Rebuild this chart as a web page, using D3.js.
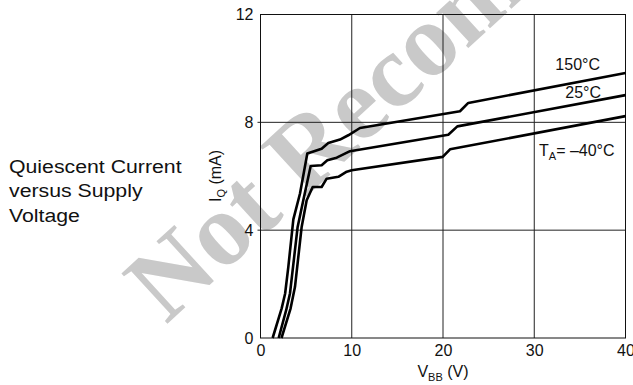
<!DOCTYPE html>
<html>
<head>
<meta charset="utf-8">
<script src="https://cdn.jsdelivr.net/npm/d3@7"></script>
<style>
  html, body { margin: 0; padding: 0; background: #fff; }
  svg { display: block; }
  text { font-family: "Liberation Sans", Arial, Helvetica, sans-serif; fill: #111; }
  text.wm { font-family: "Liberation Serif", "Times New Roman", serif; font-weight: bold; fill: #c9c9c9; }
</style>
</head>
<body>
<svg id="chart" width="633" height="385"></svg>
<script>
// ---- data ----
const xTicks = [0, 10, 20, 30, 40];
const yTicks = [0, 4, 8, 12];

const vbb150 = [1.33, 2.32, 2.7, 3.05, 3.6, 4.33, 5.13, 6.7, 7.43, 8.71, 9.62, 10.9, 21.86, 22.77, 40];
const iq150  = [0,    1.1,  1.65, 2.64, 4.4, 5.36, 6.84, 7.02, 7.23, 7.36, 7.52, 7.79, 8.41, 8.72, 9.83];

const vbb25 = [1.99, 2.82, 3.23, 4.07, 4.69, 5.5, 6.7, 7.32, 8.35, 9.81, 20.58, 21.57, 40];
const iq25  = [0,    1.04, 1.65, 4.12, 5.11, 6.38, 6.41, 6.59, 6.69, 6.93, 7.54, 7.85, 9.01];

const vbbM40 = [2.3, 3.3, 3.78, 4.51, 5.06, 5.72, 6.7, 7.25, 8.53, 9.45, 10, 19.97, 20.77, 40];
const iqM40  = [0,   1.1, 1.9,  4.12, 5.11, 5.6,  5.6, 5.91, 5.98, 6.17, 6.22, 6.72, 7.0, 8.23];

const seriesNames = ["150°C", "25°C", "–40°C"];
const watermark = "Not Recommended";
const titleLines = ["Quiescent Current", "versus Supply", "Voltage"];

// ---- drawing ----
const svg = d3.select("#chart");
svg.append("rect").attr("width", 633).attr("height", 385).attr("fill", "#fff");

const x = d3.scaleLinear().domain([0, 40]).range([260.5, 625.5]);
const y = d3.scaleLinear().domain([0, 12]).range([338, 14.5]);

// watermark (behind everything)
svg.append("text")
  .attr("class", "wm")
  .attr("transform", "translate(166,325) rotate(-42.5)")
  .attr("font-size", 104)
  .text(watermark);

// gridlines
const g = svg.append("g");
g.selectAll("line.vg").data(xTicks.slice(1, -1)).join("line")
  .attr("x1", d => x(d)).attr("x2", d => x(d))
  .attr("y1", y(0)).attr("y2", y(12))
  .attr("stroke", "#222").attr("stroke-width", 1);
g.selectAll("line.hg").data(yTicks.slice(1, -1)).join("line")
  .attr("x1", x(0) - 3).attr("x2", x(40))
  .attr("y1", d => y(d)).attr("y2", d => y(d))
  .attr("stroke", "#222").attr("stroke-width", 1);

// frame
g.append("rect")
  .attr("x", x(0)).attr("y", y(12))
  .attr("width", x(40) - x(0)).attr("height", y(0) - y(12))
  .attr("fill", "none").attr("stroke", "#111").attr("stroke-width", 1);

// axes (labels only)
const xAxis = svg.append("g").attr("transform", `translate(0,${y(0)})`)
  .call(d3.axisBottom(x).tickValues(xTicks).tickSize(0).tickPadding(7).tickFormat(d3.format("d")));
xAxis.select(".domain").remove();
xAxis.selectAll("text").attr("font-size", 16).style("font-family", "'Liberation Sans', Arial, sans-serif").style("fill", "#111");

const yAxis = svg.append("g").attr("transform", `translate(${x(0)},0)`)
  .call(d3.axisLeft(y).tickValues(yTicks).tickSize(0).tickPadding(7).tickFormat(d3.format("d")));
yAxis.select(".domain").remove();
yAxis.selectAll("text").attr("font-size", 16).style("font-family", "'Liberation Sans', Arial, sans-serif").style("fill", "#111");

// curves
const line = d3.line().x(d => x(d[0])).y(d => y(d[1])).curve(d3.curveLinear);
const series = [
  d3.zip(vbb150, iq150),
  d3.zip(vbb25, iq25),
  d3.zip(vbbM40, iqM40)
];
svg.append("g").selectAll("path").data(series).join("path")
  .attr("d", line)
  .attr("fill", "none")
  .attr("stroke", "#000")
  .attr("stroke-width", 2.6)
  .attr("stroke-linejoin", "round");

// curve labels
svg.append("text").attr("x", 600).attr("y", 70).attr("text-anchor", "end")
  .attr("font-size", 16).text(seriesNames[0]);
svg.append("text").attr("x", 601).attr("y", 98).attr("text-anchor", "end")
  .attr("font-size", 16).text(seriesNames[1]);
const ta = svg.append("text").attr("x", 539).attr("y", 155.5).attr("font-size", 16);
ta.append("tspan").text("T");
ta.append("tspan").attr("font-size", 11).attr("dy", 4).text("A");
ta.append("tspan").attr("dy", -4).text("= " + seriesNames[2]);

// axis titles
const xt = svg.append("text").attr("x", 443).attr("y", 376.5).attr("text-anchor", "middle").attr("font-size", 16);
xt.append("tspan").text("V");
xt.append("tspan").attr("font-size", 11).attr("dy", 4).text("BB");
xt.append("tspan").attr("dy", -4).text(" (V)");

const yt = svg.append("text").attr("transform", "translate(221,176) rotate(-90)")
  .attr("text-anchor", "middle").attr("font-size", 16);
yt.append("tspan").text("I");
yt.append("tspan").attr("font-size", 11).attr("dy", 4).text("Q");
yt.append("tspan").attr("dy", -4).text(" (mA)");

// left description
const desc = svg.append("g").attr("transform", "translate(9,0) scale(1.12,1)");
desc.selectAll("text").data(titleLines).join("text")
  .attr("x", 0).attr("y", (d, i) => 173 + i * 24.5)
  .attr("font-size", 19)
  .text(d => d);
</script>
</body>
</html>
